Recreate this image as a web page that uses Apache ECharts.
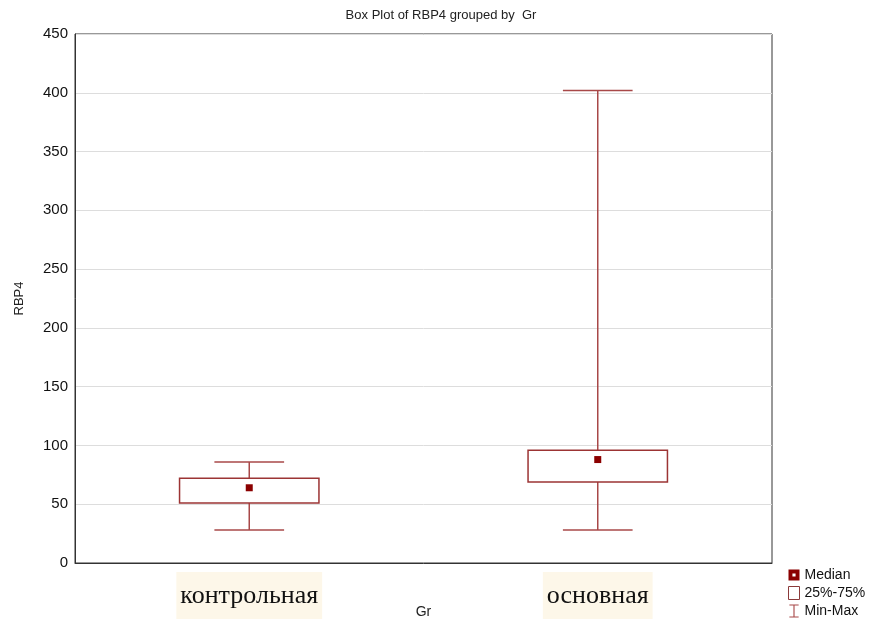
<!DOCTYPE html>
<html>
<head>
<meta charset="utf-8">
<script src="https://cdn.jsdelivr.net/npm/echarts@6/dist/echarts.min.js"></script>
<style>
  html, body { margin: 0; padding: 0; background: #fff; }
  #chart { width: 882px; height: 619px; }
</style>
</head>
<body>
<div id="chart"></div>
<script>
// groups and their statistics
var groups = ['контрольная', 'основная'];
var minVals = [28, 28];
var q1Vals = [51, 69];
var medianVals = [64, 88];
var q3Vals = [72, 96];
var maxVals = [86, 402];
var yTicks = [0, 450, 50]; // min, max, step

var lineColor = '#a84848';
var darkRed = '#8b0000';

var boxData = [], whiskerData = [], medianData = [];
for (var i = 0; i < groups.length; i++) {
    boxData.push([i, q1Vals[i], q3Vals[i]]);
    whiskerData.push([i, minVals[i], q1Vals[i], q3Vals[i], maxVals[i]]);
    medianData.push([i, medianVals[i]]);
}

var myChart = echarts.init(document.getElementById('chart'));

var option = {
    animation: false,
    title: {
        text: 'Box Plot of RBP4 grouped by  Gr',
        left: 'center',
        top: 4,
        textStyle: { fontFamily: 'Liberation Sans', fontSize: 13, fontWeight: 'normal', color: '#222' }
    },
    legend: {
        orient: 'vertical',
        left: 788,
        top: 568,
        padding: 0,
        itemGap: 4,
        itemWidth: 11,
        itemHeight: 13,
        textStyle: { fontFamily: 'Liberation Sans', fontSize: 14, color: '#111' },
        data: [
            { name: 'Median', icon: 'path://M0,0H14V14H0Z M5,5V9H9V5Z', itemStyle: { color: darkRed } },
            { name: '25%-75%', icon: 'rect', itemStyle: { color: '#fff', borderColor: '#8b3a3a', borderWidth: 1 } },
            { name: 'Min-Max', icon: 'path://M0,0H10V1.2H5.6V12.8H10V14H0V12.8H4.4V1.2H0Z', itemStyle: { color: lineColor } }
        ]
    },
    grid: {
        left: 75,
        right: 110,
        top: 34,
        bottom: 56,
        outerBoundsMode: 'none',
        containLabel: false,
        show: true,
        borderColor: '#333',
        borderWidth: 1
    },
    xAxis: {
        type: 'category',
        data: groups,
        name: 'Gr',
        nameLocation: 'middle',
        nameGap: 42,
        nameMoveOverlap: false,
        nameTextStyle: { fontFamily: 'Liberation Sans', fontSize: 14, color: '#222' },
        axisLine: { lineStyle: { color: '#333' } },
        axisTick: { alignWithLabel: true, inside: true, length: 3, lineStyle: { color: '#333' } },
        axisLabel: {
            fontFamily: 'Liberation Serif',
            fontSize: 26,
            color: '#111',
            margin: 9,
            backgroundColor: '#fdf7e9',
            padding: [11, 4, 11, 4]
        },
        splitLine: { show: false }
    },
    yAxis: {
        type: 'value',
        min: yTicks[0],
        max: yTicks[1],
        interval: yTicks[2],
        name: 'RBP4',
        nameLocation: 'middle',
        nameGap: 49,
        nameMoveOverlap: false,
        nameTextStyle: { fontFamily: 'Liberation Sans', fontSize: 13, color: '#222' },
        axisLine: { show: true, lineStyle: { color: '#333' } },
        axisTick: { show: false },
        axisLabel: { fontFamily: 'Liberation Sans', fontSize: 15, color: '#111', margin: 7 },
        splitLine: { lineStyle: { color: '#ddd' } }
    },
    series: [
        {
            name: 'Min-Max',
            type: 'custom',
            data: whiskerData,
            encode: { x: 0, y: [1, 2, 3, 4] },
            z: 2,
            renderItem: function (params, api) {
                var idx = api.value(0);
                var pMin = api.coord([idx, api.value(1)]);
                var pQ1 = api.coord([idx, api.value(2)]);
                var pQ3 = api.coord([idx, api.value(3)]);
                var pMax = api.coord([idx, api.value(4)]);
                var half = api.size([1, 0])[0] * 0.1;
                var style = { stroke: lineColor, lineWidth: 1.5 };
                return {
                    type: 'group',
                    children: [
                        { type: 'line', shape: { x1: pMax[0], y1: pMax[1], x2: pQ3[0], y2: pQ3[1] }, style: style },
                        { type: 'line', shape: { x1: pQ1[0], y1: pQ1[1], x2: pMin[0], y2: pMin[1] }, style: style },
                        { type: 'line', shape: { x1: pMax[0] - half, y1: pMax[1], x2: pMax[0] + half, y2: pMax[1] }, style: style },
                        { type: 'line', shape: { x1: pMin[0] - half, y1: pMin[1], x2: pMin[0] + half, y2: pMin[1] }, style: style }
                    ]
                };
            }
        },
        {
            name: '25%-75%',
            type: 'custom',
            data: boxData,
            encode: { x: 0, y: [1, 2] },
            z: 3,
            renderItem: function (params, api) {
                var idx = api.value(0);
                var pLow = api.coord([idx, api.value(1)]);
                var pHigh = api.coord([idx, api.value(2)]);
                var w = api.size([1, 0])[0] * 0.4;
                return {
                    type: 'rect',
                    shape: { x: pLow[0] - w / 2, y: pHigh[1], width: w, height: pLow[1] - pHigh[1] },
                    style: { fill: '#fff', stroke: '#9c3434', lineWidth: 1.5 }
                };
            }
        },
        {
            name: 'Median',
            type: 'scatter',
            data: medianData,
            symbol: 'rect',
            symbolSize: 7,
            z: 4,
            itemStyle: { color: darkRed, opacity: 1 }
        }
    ]
};

myChart.setOption(option);
</script>
</body>
</html>
